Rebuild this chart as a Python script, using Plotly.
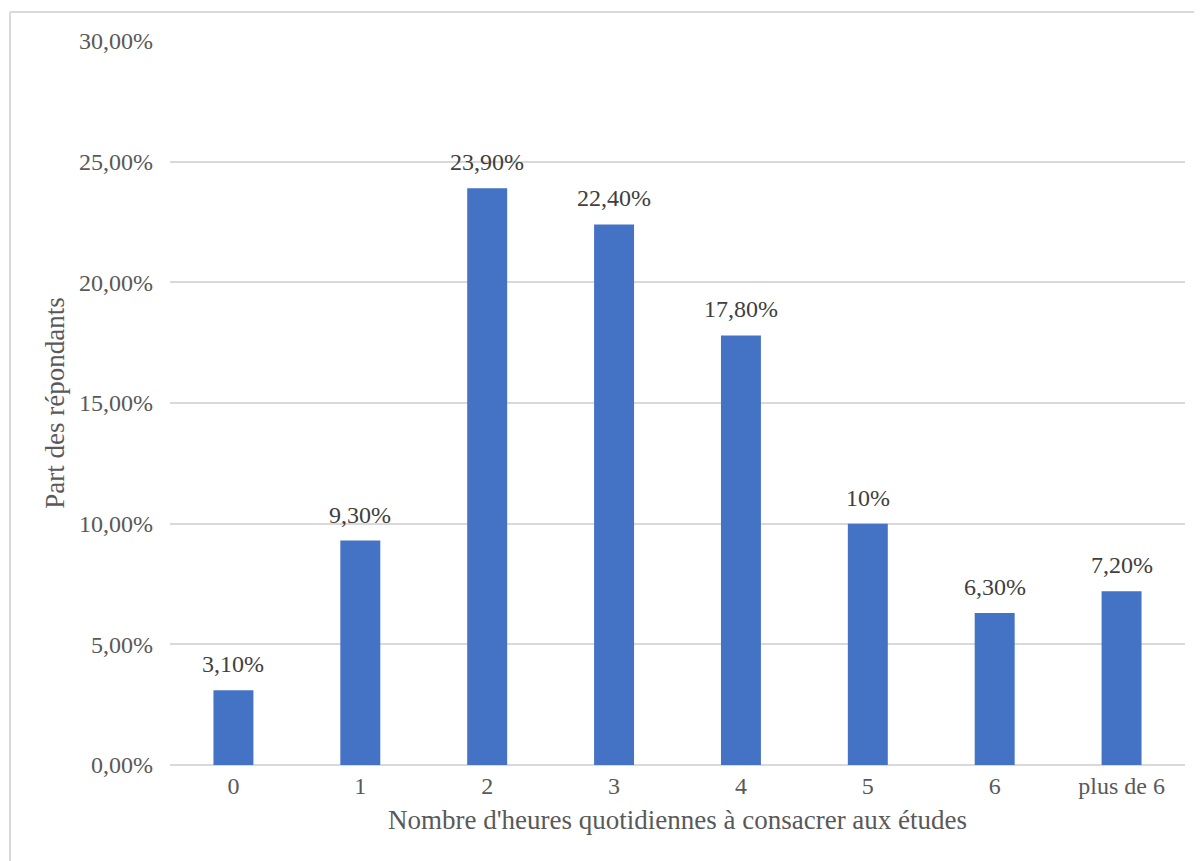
import plotly.graph_objects as go

categories = ["0", "1", "2", "3", "4", "5", "6", "plus de 6"]
values = [0.031, 0.093, 0.239, 0.224, 0.178, 0.10, 0.063, 0.072]
labels = ["3,10%", "9,30%", "23,90%", "22,40%", "17,80%", "10%", "6,30%", "7,20%"]
y_ticks = [0, 0.05, 0.10, 0.15, 0.20, 0.25, 0.30]

W, H = 1202, 861
OFF = 8  # page offset of the figure in the browser
L, T = 170 - OFF, 41 - OFF
R = W - (1185 - OFF)
B = H - (765 - OFF)
FONT = "Liberation Serif"
TXT = "#595959"
FS = 24
FS_TITLE = 27

fig = go.Figure()
fig.add_trace(go.Bar(
    x=categories, y=values,
    marker=dict(color="#4472C4", line=dict(width=0)),
    width=0.315,
    hoverinfo="skip",
))

for c, v, t in zip(categories, values, labels):
    fig.add_annotation(x=c, y=v, text=t, showarrow=False, yshift=26,
                       font=dict(family=FONT, size=FS, color="#404040"))

pw = W - L - R
ph = H - T - B
def px_x(px):
    return (px - OFF - L) / pw
def px_y(py):
    return (H - B - (py - OFF)) / ph

line_style = dict(color="#D9D9D9", width=2)
fig.add_shape(type="line", xref="paper", yref="paper",
              x0=px_x(10), x1=px_x(1210), y0=px_y(12), y1=px_y(12), line=line_style)
fig.add_shape(type="line", xref="paper", yref="paper",
              x0=px_x(10), x1=px_x(10), y0=px_y(12), y1=px_y(870), line=line_style)

fig.update_layout(
    width=W, height=H,
    margin=dict(l=L, r=R, t=T, b=B),
    paper_bgcolor="white", plot_bgcolor="white",
    separators=", ",
    showlegend=False,
    font=dict(family=FONT, size=FS, color=TXT),
    xaxis=dict(
        type="category",
        tickfont=dict(family=FONT, size=FS, color=TXT),
        showgrid=False, showline=False, zeroline=False, ticks="",
        ticklabelstandoff=4,
        title=dict(text="Nombre d'heures quotidiennes à consacrer aux études",
                   font=dict(family=FONT, size=FS_TITLE, color=TXT), standoff=12),
    ),
    yaxis=dict(
        range=[0, 0.30],
        tickvals=y_ticks,
        tickformat=".2%",
        tickfont=dict(family=FONT, size=FS, color=TXT),
        showgrid=True, gridcolor="#D9D9D9", gridwidth=1.5,
        zeroline=True, zerolinecolor="#D9D9D9", zerolinewidth=1.5,
        showline=False, ticks="",
        ticklabelstandoff=16,
        title=dict(text="Part des répondants",
                   font=dict(family=FONT, size=FS_TITLE, color=TXT), standoff=6),
    ),
)

fig.write_html("out.html")
